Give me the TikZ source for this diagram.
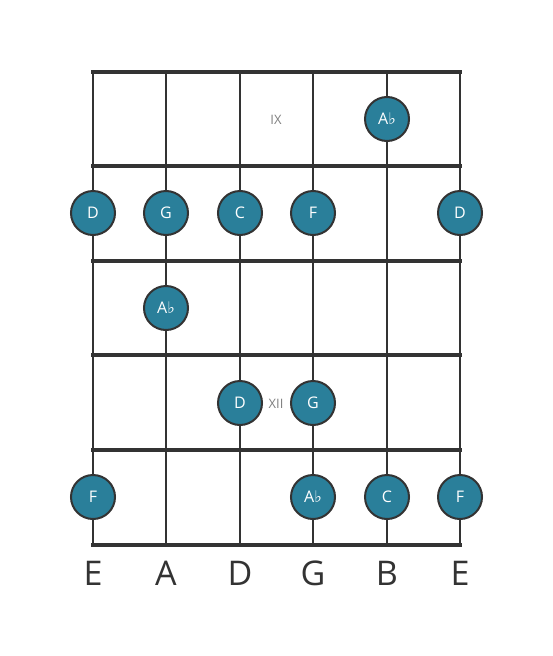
\documentclass[tikz,border=0pt]{standalone}
\usepackage{fontspec}
\setmainfont{Open Sans}
\newfontfamily\symfont{DejaVu Sans}
\begin{document}
\begin{tikzpicture}[x=1pt,y=-1pt,
  fretline/.style={line width=4.5pt,draw=black!80,line cap=rect},
  stringline/.style={line width=2.5pt,draw=black!80},
  notedot/.style={circle,minimum size=44pt,inner sep=0pt,fill=notecol,draw=black!80,line width=2pt,text=white,font=\fontsize{16}{16}\selectfont},
  fretnum/.style={text=black!50,font=\fontsize{13}{13}\selectfont},
  strname/.style={text=black!80,font=\fontsize{34}{34}\selectfont}]
\definecolor{notecol}{HTML}{2A7F9A}
\useasboundingbox (0,0) rectangle (553,656);
\fill[white] (0,0) rectangle (553,656);
\foreach \x [count=\i] in {93,166,240,313,387,460} {
  \coordinate (st\i) at (\x,72);
  \coordinate (sb\i) at (\x,545);
  \draw[stringline] (st\i) -- (sb\i);
}
\foreach \y [count=\j] in {72,166,261,355,450,545} {
  \coordinate (fl\j) at (93,\y);
  \coordinate (fr\j) at (460,\y);
  \draw[fretline] (fl\j) -- (fr\j);
}
\node[fretnum] (ix) at (276,120) {IX};
\node[fretnum] (xii) at (276,404) {XII};
\newcommand{\fl}{{\symfont\char"266D}}
\node[notedot] (n1) at (387,119) {A\fl};
\node[notedot] (n2) at (93,213) {D};
\node[notedot] (n3) at (166,213) {G};
\node[notedot] (n4) at (240,213) {C};
\node[notedot] (n5) at (313,213) {F};
\node[notedot] (n6) at (460,213) {D};
\node[notedot] (n7) at (166,308) {A\fl};
\node[notedot] (n8) at (240,403) {D};
\node[notedot] (n9) at (313,403) {G};
\node[notedot] (n10) at (93,497) {F};
\node[notedot] (n11) at (313,497) {A\fl};
\node[notedot] (n12) at (387,497) {C};
\node[notedot] (n13) at (460,497) {F};
\foreach \x/\s [count=\i] in {93/E,166/A,240/D,313/G,387/B,460/E} {
  \node[strname] (sn\i) at (\x,573) {\s};
}
\end{tikzpicture}
\end{document}
